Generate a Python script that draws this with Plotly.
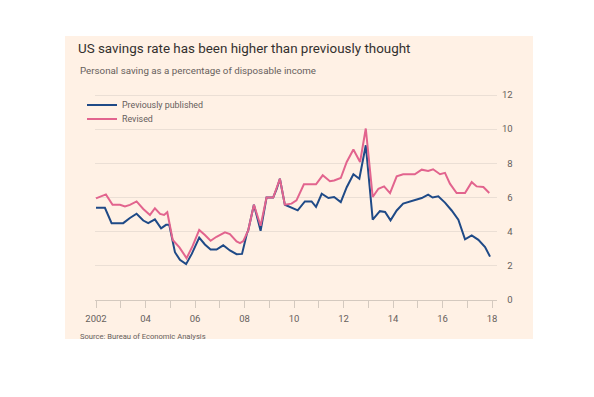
import plotly.graph_objects as go

# ---- data (decimal years, % of disposable income) ----
prev_x = [2002.0, 2002.36, 2002.63, 2003.1, 2003.37, 2003.64, 2003.91, 2004.11, 2004.38, 2004.63,
          2004.83, 2004.96, 2005.19, 2005.39, 2005.64, 2005.87, 2006.17, 2006.4, 2006.63, 2006.87,
          2007.14, 2007.41, 2007.68, 2007.9, 2008.1, 2008.15, 2008.38, 2008.65, 2008.89, 2009.16,
          2009.3, 2009.43, 2009.63, 2009.9, 2010.15, 2010.44, 2010.71, 2010.89, 2011.12, 2011.39,
          2011.62, 2011.89, 2012.13, 2012.4, 2012.64, 2012.9, 2013.18, 2013.47, 2013.68, 2013.9,
          2014.15, 2014.41, 2014.75, 2015.16, 2015.42, 2015.6, 2015.83, 2016.1, 2016.37, 2016.64,
          2016.91, 2017.18, 2017.45, 2017.72, 2017.92]
prev_y = [5.4, 5.4, 4.5, 4.5, 4.8, 5.05, 4.65, 4.5, 4.72, 4.2,
          4.4, 4.4, 2.8, 2.35, 2.1, 2.7, 3.65, 3.25, 2.95, 2.95,
          3.2, 2.9, 2.68, 2.7, 3.9, 4.07, 5.58, 4.05, 6.0, 6.0,
          6.5, 7.1, 5.58, 5.4, 5.25, 5.77, 5.77, 5.45, 6.22, 5.97,
          6.03, 5.73, 6.6, 7.36, 7.1, 9.06, 4.7, 5.2, 5.15, 4.66,
          5.24, 5.64, 5.8, 5.97, 6.17, 6.0, 6.07, 5.7, 5.24, 4.7,
          3.55, 3.78, 3.52, 3.1, 2.54]

rev_x = [2002.0, 2002.4, 2002.67, 2002.97, 2003.17, 2003.37, 2003.64, 2003.91, 2004.18, 2004.38,
         2004.59, 2004.75, 2004.88, 2005.1, 2005.37, 2005.66, 2005.91, 2006.17, 2006.4, 2006.63,
         2006.87, 2007.21, 2007.41, 2007.68, 2007.82, 2007.95, 2008.15, 2008.38, 2008.65, 2008.89,
         2009.16, 2009.43, 2009.63, 2009.9, 2010.1, 2010.4, 2010.89, 2011.16, 2011.45, 2011.62,
         2011.89, 2012.13, 2012.4, 2012.67, 2012.9, 2013.18, 2013.41, 2013.64, 2013.88, 2014.15,
         2014.41, 2014.88, 2015.16, 2015.42, 2015.62, 2015.9, 2016.1, 2016.3, 2016.57, 2016.91,
         2017.18, 2017.38, 2017.65, 2017.89]
rev_y = [5.95, 6.18, 5.57, 5.57, 5.47, 5.57, 5.77, 5.33, 4.98, 5.37,
         5.04, 4.98, 5.14, 3.51, 3.08, 2.45, 3.18, 4.1, 3.8, 3.47,
         3.7, 3.96, 3.86, 3.43, 3.33, 3.45, 4.07, 5.58, 4.35, 6.0,
         6.0, 7.1, 5.58, 5.64, 5.83, 6.77, 6.77, 7.3, 6.95, 7.0,
         7.14, 8.08, 8.81, 8.08, 10.04, 6.03, 6.51, 6.65, 6.26, 7.24,
         7.36, 7.36, 7.63, 7.55, 7.65, 7.36, 7.44, 6.81, 6.26, 6.26,
         6.9, 6.65, 6.61, 6.26]

x_tickvals = list(range(2002, 2019))
x_ticktext = ["2002", "", "04", "", "06", "", "08", "", "10", "", "12", "", "14", "", "16", "", "18"]
y_tickvals = [0, 2, 4, 6, 8, 10, 12]
y_ticktext = ["\u20070", "\u20072", "\u20074", "\u20076", "\u20078", "10", "12"]

series_names = ["Previously published", "Revised"]
series_colors = ["#1f4a87", "#e2648e"]

# ---- layout geometry (pixels in the reference frame) ----
OFF = 8                  # page body margin in the browser
W, H = 594 - OFF, 397 - OFF
L, R = 95, 497           # plot area left/right
T, B = 92, 300           # plot area top / y=0 line
FONT = "Roboto"
BG = "#fff1e5"

def px(xp):
    return (xp - L) / (R - L)

def py(yp):
    return (B - yp) / (B - T)

fig = go.Figure()
fig.add_trace(go.Scatter(x=prev_x, y=prev_y, mode="lines", name=series_names[0],
                         line=dict(color=series_colors[0], width=2), legend="legend"))
fig.add_trace(go.Scatter(x=rev_x, y=rev_y, mode="lines", name=series_names[1],
                         line=dict(color=series_colors[1], width=2), legend="legend2"))

x0 = 2002 - (96 - L) / 24.75
x1 = 2002 + (R - 96) / 24.75
y_top = 12 + (95 - T) / ((B - 95) / 12)

leg_common = dict(xanchor="left", yanchor="middle", bgcolor="rgba(0,0,0,0)",
                  font=dict(family=FONT, size=8.9, color="#66605c"),
                  itemclick=False, itemdoubleclick=False, borderwidth=0)

fig.update_layout(
    width=W, height=H,
    margin=dict(l=L - OFF, r=W - (R - OFF), t=T - OFF, b=H - (B - OFF), pad=0),
    paper_bgcolor="white",
    plot_bgcolor=BG,
    font=dict(family=FONT, color="#66605c", size=9),
    title=dict(text="US savings rate has been higher than previously thought",
               x=(78 - OFF) / W, xref="container", xanchor="left",
               y=1 - (48.5 - OFF) / H, yref="container", yanchor="middle",
               font=dict(family=FONT, size=13.4, color="#33302e")),
    showlegend=True,
    legend=dict(x=px(82), y=py(105), **leg_common),
    legend2=dict(x=px(82), y=py(119), **leg_common),
    xaxis=dict(range=[x0, x1], tickvals=x_tickvals, ticktext=x_ticktext,
               showgrid=False, zeroline=False, showline=True, linecolor="#d4c9bf",
               ticks="outside", ticklen=7, tickcolor="#d4c9bf", tickwidth=1,
               ticklabelstandoff=3,
               tickfont=dict(size=9.5, color="#66605c"), fixedrange=True),
    yaxis=dict(range=[0, y_top], tickvals=y_tickvals, ticktext=y_ticktext,
               side="right", showgrid=True, gridcolor="#ebdfd5", gridwidth=1,
               zeroline=False, ticks="", showline=False, ticklabelstandoff=4,
               tickfont=dict(size=9.5, color="#66605c"), fixedrange=True),
    shapes=[dict(type="rect", xref="paper", yref="paper", layer="below",
                 x0=px(65), x1=px(533), y0=py(339), y1=py(36),
                 fillcolor=BG, line=dict(width=0))],
    annotations=[
        dict(text="Personal saving as a percentage of disposable income",
             xref="paper", yref="paper", x=px(78), y=py(71), xanchor="left", yanchor="middle",
             showarrow=False, font=dict(family=FONT, size=9.75, color="#66605c")),
        dict(text="Source: Bureau of Economic Analysis",
             xref="paper", yref="paper", x=px(78), y=py(336), xanchor="left", yanchor="middle",
             showarrow=False, font=dict(family=FONT, size=7.6, color="#66605c")),
    ],
)

fig.write_html("out.html")
